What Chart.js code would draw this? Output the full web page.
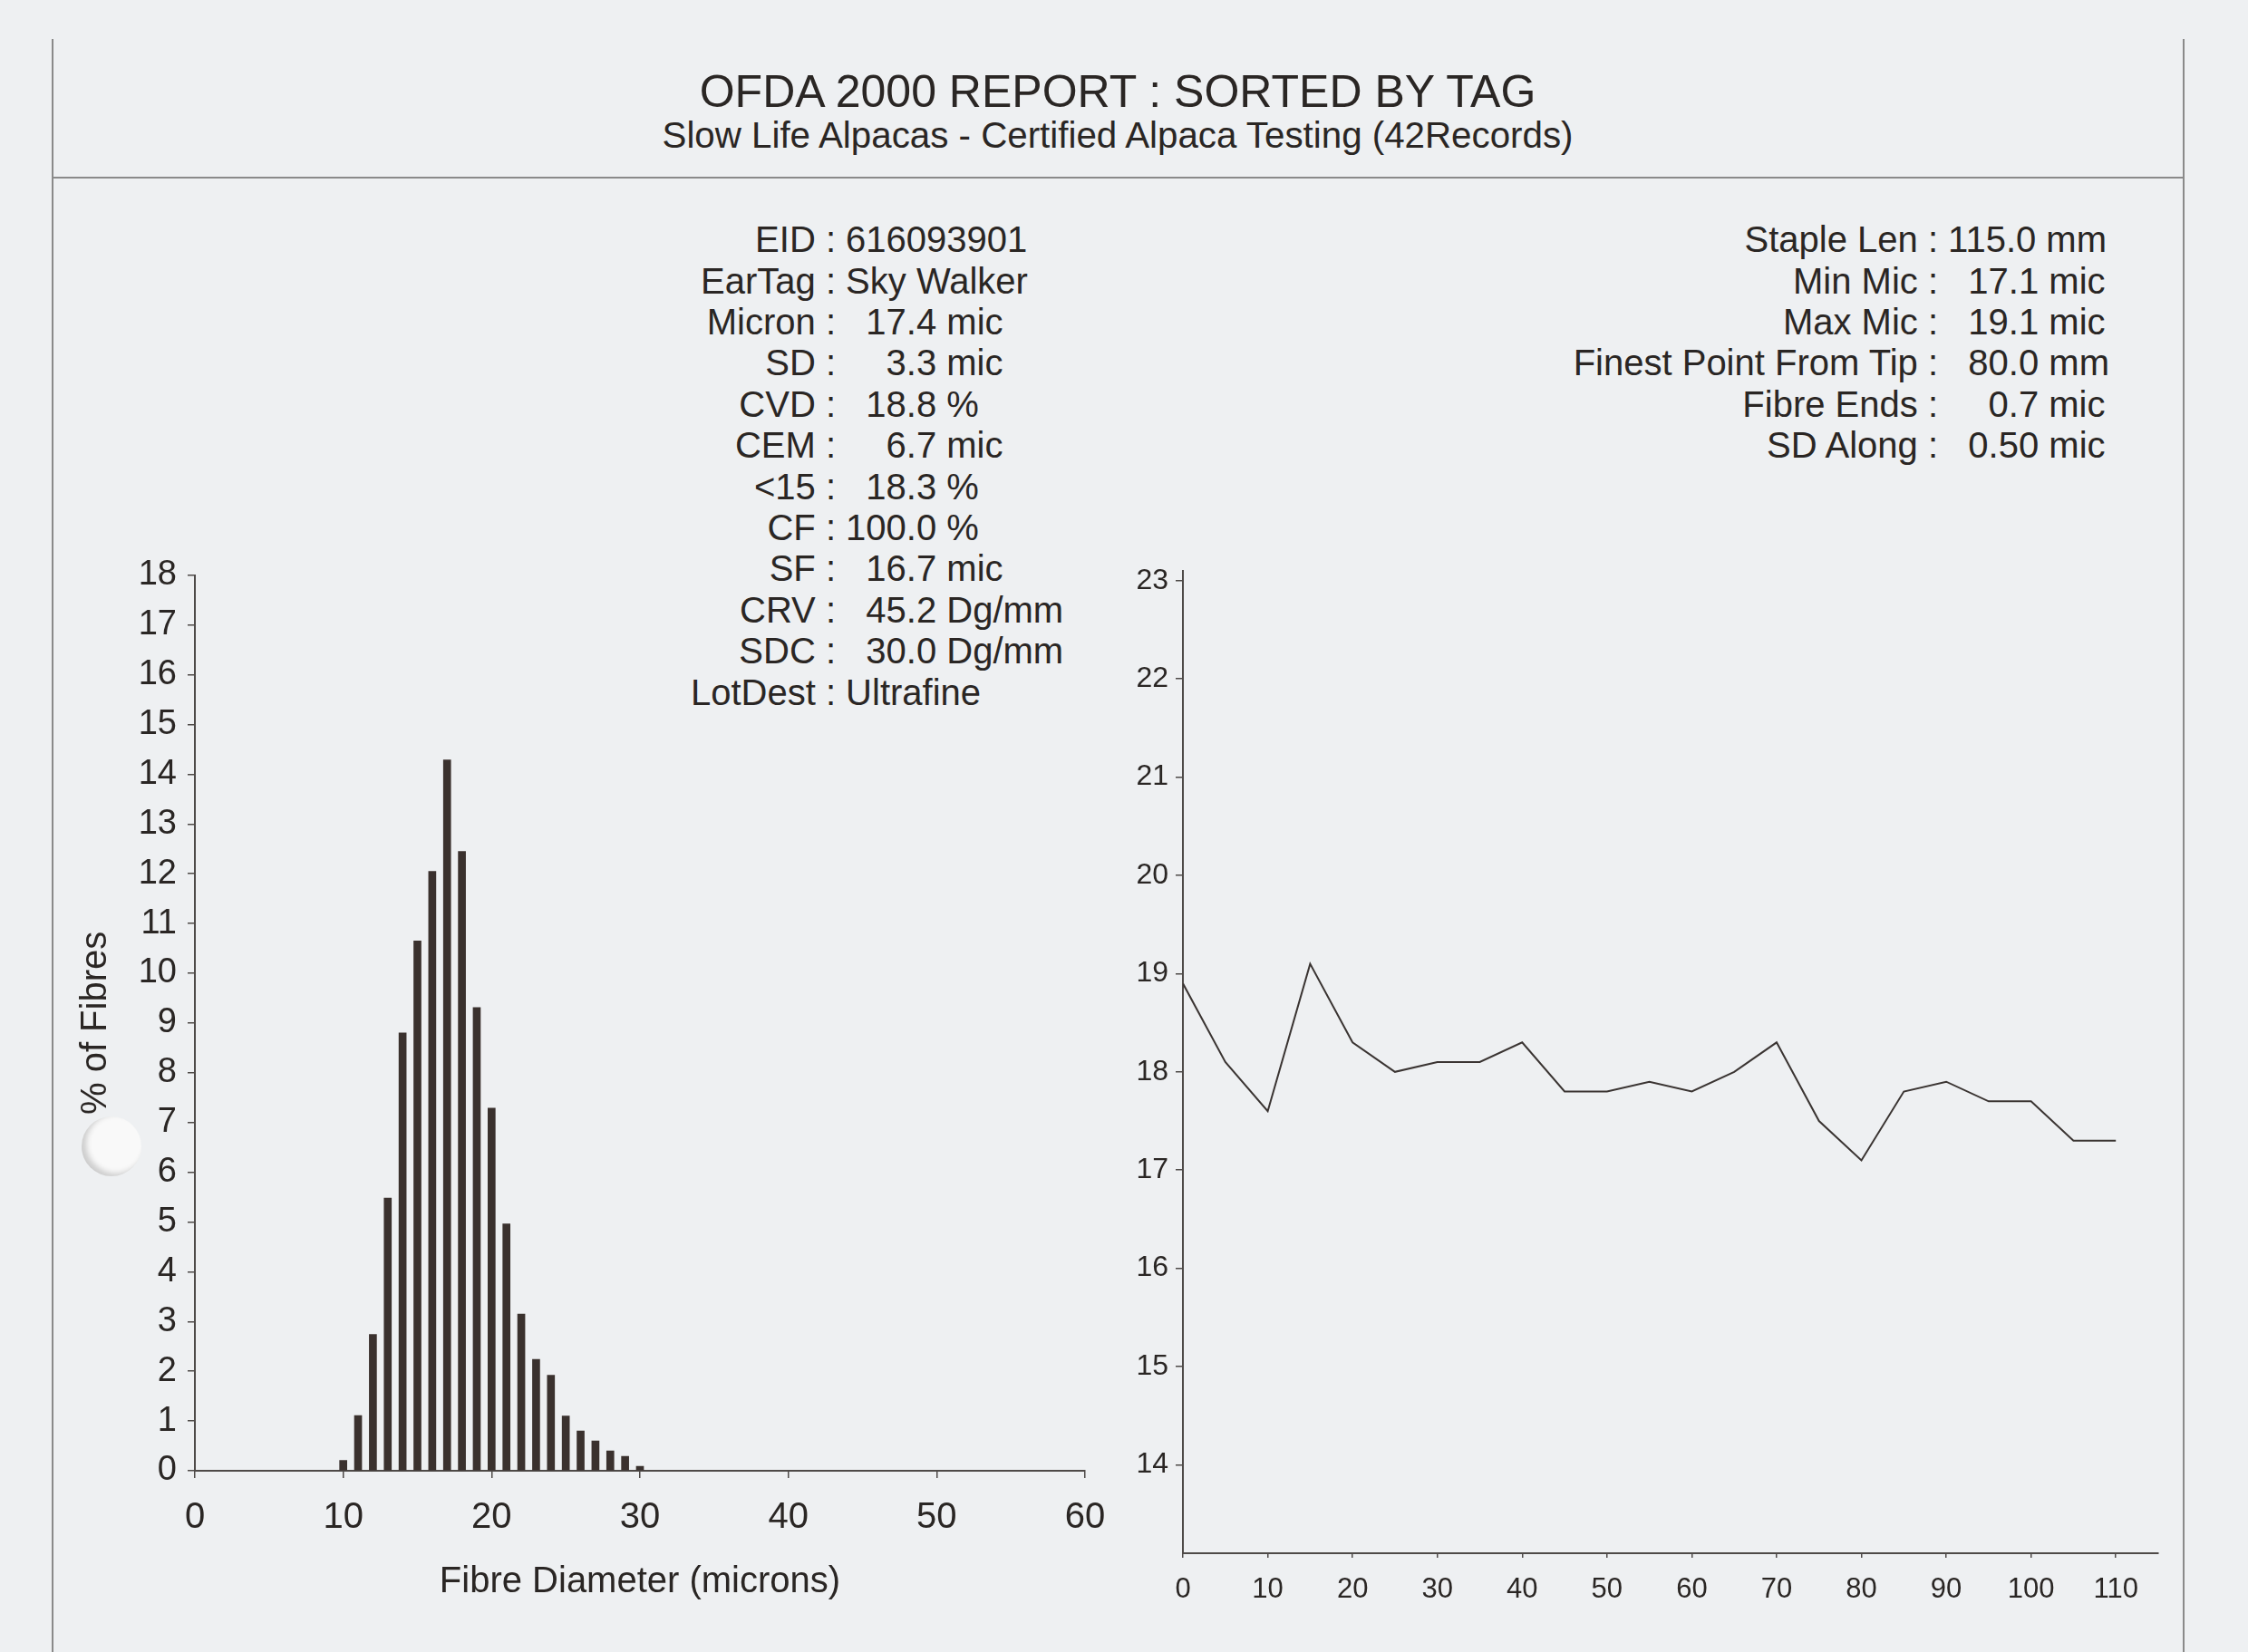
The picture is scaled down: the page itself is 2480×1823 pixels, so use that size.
<!DOCTYPE html>
<html>
<head>
<meta charset="utf-8">
<script src="https://cdn.jsdelivr.net/npm/chart.js@4/dist/chart.umd.min.js"></script>
<style>
  body { margin: 0; background: #eef0f2; width: 2480px; height: 1823px; position: relative; overflow: hidden;
         font-family: "Liberation Sans", Arial, sans-serif; color: #2a2624; }
  .t { position: absolute; white-space: pre; }
  .rule { position: absolute; background: #8a8a8a; }
  canvas { position: absolute; }
  #hole { position: absolute; left: 90px; top: 1232px; width: 66px; height: 66px; border-radius: 50%;
          background: #f9f9f9; box-shadow: inset 5px -3px 6px rgba(0,0,0,0.18); }
</style>
</head>
<body>
<div class="rule" style="left:57px;top:43px;width:2px;height:1780px"></div>
<div class="rule" style="left:2408px;top:43px;width:2px;height:1780px"></div>
<div class="rule" style="left:57px;top:195px;width:2353px;height:2px"></div>
<div id="hole"></div>
<div id="text"></div>
<canvas id="hist" width="1200" height="1200" style="left:60px;top:600px"></canvas>
<canvas id="profile" width="1180" height="1200" style="left:1240px;top:600px"></canvas>
<script>
// histogram: % of fibres by diameter
const diameters = [10, 11, 12, 13, 14, 15, 16, 17, 18, 19, 20, 21, 22, 23, 24, 25, 26, 27, 28, 29, 30];
const fibrePct = [0.21, 1.11, 2.74, 5.48, 8.80, 10.65, 12.05, 14.29, 12.45, 9.31, 7.29, 4.96, 3.15, 2.24, 1.92, 1.10, 0.80, 0.60, 0.40, 0.29, 0.09];
const histXTicks = [0, 10, 20, 30, 40, 50, 60];
const histYTicks = [0, 1, 2, 3, 4, 5, 6, 7, 8, 9, 10, 11, 12, 13, 14, 15, 16, 17, 18];

// micron profile along the staple
const positions = [0, 5, 10, 15, 20, 25, 30, 35, 40, 45, 50, 55, 60, 65, 70, 75, 80, 85, 90, 95, 100, 105, 110];
const micron = [18.9, 18.1, 17.6, 19.1, 18.3, 18.0, 18.1, 18.1, 18.3, 17.8, 17.8, 17.9, 17.8, 18.0, 18.3, 17.5, 17.1, 17.8, 17.9, 17.7, 17.7, 17.3, 17.3];
const profXTicks = [0, 10, 20, 30, 40, 50, 60, 70, 80, 90, 100, 110];
const profYTicks = [14, 15, 16, 17, 18, 19, 20, 21, 22, 23];

// report text
const leftLabels = ['EID', 'EarTag', 'Micron', 'SD', 'CVD', 'CEM', '<15', 'CF', 'SF', 'CRV', 'SDC', 'LotDest'];
const leftValues = ['616093901', 'Sky Walker', '17.4', '3.3', '18.8', '6.7', '18.3', '100.0', '16.7', '45.2', '30.0', 'Ultrafine'];
const leftUnits = ['', '', 'mic', 'mic', '%', 'mic', '%', '%', 'mic', 'Dg/mm', 'Dg/mm', ''];
const rightLabels = ['Staple Len', 'Min Mic', 'Max Mic', 'Finest Point From Tip', 'Fibre Ends', 'SD Along'];
const rightValues = ['115.0', '17.1', '19.1', '80.0', '0.7', '0.50'];
const rightUnits = ['mm', 'mic', 'mic', 'mm', 'mic', 'mic'];

const ink = '#2a2624';
const axisInk = '#4e4a48';
const font = 'Liberation Sans';

const holder = document.getElementById('text');
function text(str, x, baseline, size, align) {
  const d = document.createElement('div');
  d.className = 't';
  d.textContent = str;
  d.style.fontSize = size + 'px';
  d.style.lineHeight = size + 'px';
  d.style.top = (baseline - 0.8465 * size) + 'px';
  if (align === 'right') d.style.right = (2480 - x) + 'px';
  else if (align === 'center') { d.style.left = (x - 1000) + 'px'; d.style.width = '2000px'; d.style.textAlign = 'center'; }
  else d.style.left = x + 'px';
  holder.appendChild(d);
}
function pad(v) {
  return v.length < 5 && /^[0-9.]+$/.test(v) ? '  '.repeat(5 - v.length) : '';
}

text('OFDA 2000 REPORT : SORTED BY TAG', 1233, 118, 50, 'center');
text('Slow Life Alpacas - Certified Alpaca Testing (42Records)', 1233, 164, 40.3, 'center');

leftLabels.forEach((l, i) => {
  const y = 278 + i * 45.4;
  text(l + ' :', 922, y, 40, 'right');
  text(' ' + pad(leftValues[i]) + leftValues[i] + (leftUnits[i] ? ' ' + leftUnits[i] : ''), 922, y, 40);
});
rightLabels.forEach((l, i) => {
  const y = 278 + i * 45.4;
  text(l + ' :', 2138, y, 40, 'right');
  text(' ' + pad(rightValues[i]) + rightValues[i] + ' ' + rightUnits[i], 2138, y, 40);
});

const setTicks = list => scale => { scale.ticks = list.map(v => ({ value: v })); };

new Chart(document.getElementById('hist'), {
  type: 'bar',
  data: {
    datasets: [{
      data: diameters.map((d, i) => ({ x: d, y: fibrePct[i] })),
      backgroundColor: '#3a312e',
      borderWidth: 0,
      barThickness: 8
    }]
  },
  options: {
    responsive: false,
    animation: false,
    layout: { padding: { top: 33, right: 63, left: 0, bottom: 0 } },
    plugins: { legend: { display: false }, tooltip: { enabled: false } },
    scales: {
      x: {
        type: 'linear', min: 0, max: 60, offset: false,
        afterBuildTicks: setTicks(histXTicks),
        afterFit: s => { s.height = 177; },
        grid: { display: true, offset: false, drawOnChartArea: false, tickLength: 8, color: axisInk, lineWidth: 1.5 },
        border: { display: true, color: axisInk, width: 2 },
        ticks: { font: { family: font, size: 40 }, color: ink, padding: 20, maxRotation: 0 },
        title: { display: true, text: 'Fibre Diameter (microns)', font: { family: font, size: 40 }, color: ink, padding: { top: 0, bottom: 30 } }
      },
      y: {
        type: 'linear', min: 0, max: 18,
        afterBuildTicks: setTicks(histYTicks),
        afterFit: s => { s.width = 155; },
        grid: { display: true, drawOnChartArea: false, tickLength: 8, color: axisInk, lineWidth: 1.5 },
        border: { display: true, color: axisInk, width: 2 },
        ticks: { font: { family: font, size: 38 }, color: ink, padding: 12 },
        title: { display: true, text: '% of Fibres', font: { family: font, size: 40 }, color: ink, padding: { top: 22, bottom: 0 } }
      }
    }
  }
});

new Chart(document.getElementById('profile'), {
  type: 'line',
  data: {
    datasets: [{
      data: positions.map((p, i) => ({ x: p, y: micron[i] })),
      borderColor: '#3a3432',
      borderWidth: 2,
      pointRadius: 0,
      tension: 0,
      fill: false
    }]
  },
  options: {
    responsive: false,
    animation: false,
    layout: { padding: { top: 30, right: 39, left: 0, bottom: 0 } },
    plugins: { legend: { display: false }, tooltip: { enabled: false } },
    scales: {
      x: {
        type: 'linear', min: 0, max: 115,
        afterBuildTicks: setTicks(profXTicks),
        afterFit: s => { s.height = 86; },
        grid: { display: true, drawOnChartArea: false, tickLength: 5, color: axisInk, lineWidth: 1.5 },
        border: { display: true, color: axisInk, width: 2 },
        ticks: { font: { family: font, size: 31 }, color: ink, padding: 17, maxRotation: 0 }
      },
      y: {
        type: 'linear', min: 13.1, max: 23.1,
        afterBuildTicks: setTicks(profYTicks),
        afterFit: s => { s.width = 65; },
        grid: { display: true, drawOnChartArea: false, tickLength: 8, color: axisInk, lineWidth: 1.5 },
        border: { display: true, color: axisInk, width: 2 },
        ticks: { font: { family: font, size: 32 }, color: ink, padding: 8 }
      }
    }
  }
});
</script>
</body>
</html>
